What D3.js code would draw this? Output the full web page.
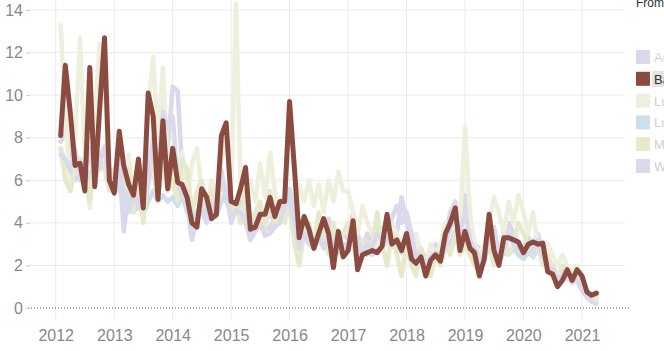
<!DOCTYPE html>
<html>
<head>
<meta charset="utf-8">
<script src="https://cdn.jsdelivr.net/npm/d3@7"></script>
<style>
  body { margin: 0; background: #fff; }
  svg { display: block; font-family: "Liberation Sans", Arial, sans-serif; }
</style>
</head>
<body>
<div id="chart"></div>
<script>
// monthly values, Feb 2012 .. Apr 2021
const firstMonth = new Date(2012, 1, 1)
const years = [2012, 2013, 2014, 2015, 2016, 2017, 2018, 2019, 2020, 2021]
const yTicks = [0, 2, 4, 6, 8, 10, 12, 14]
const names = ["Austria", "Bavaria", "Luxembourg", "Lucerne", "Milan", "Wales"]
const highlighted = "Bavaria"

const au = [7.8, 8.3, 7.5, 6.5, 7.0, 6.8, 7.2, 5.8, 7.0, 7.6, 6.5,
  6.2, 6.8, 3.6, 5.5, 4.8, 5.5, 4.5, 5.8, 7.3, 6.0, 9.8, 7.5,
  10.4, 10.2, 6.5, 5.5, 3.8, 4.5, 5.0, 4.2, 4.8, 5.5, 6.5, 5.0,
  4.5, 5.0, 4.0, 4.8, 3.5, 4.0, 4.5, 3.6, 3.8, 4.2, 4.5, 5.0,
  5.6, 4.5, 3.0, 4.0, 3.5, 3.2, 3.8, 3.0, 4.2, 3.2, 3.0, 3.5,
  3.2, 4.5, 3.5, 2.8, 3.5, 3.0, 4.0, 3.5, 4.2, 3.5, 3.5, 5.2,
  4.0, 3.0, 2.5, 2.8, 2.2, 2.5, 3.0, 2.6, 3.5, 4.5, 5.0, 4.0,
  5.3, 4.0, 3.0, 2.8, 2.5, 3.5, 3.8, 2.5, 3.0, 4.0, 3.5, 3.0,
  2.8, 3.3, 3.0, 3.5, 2.5, 2.2, 2.0, 1.5, 1.8, 1.6, 1.3, 1.5,
  1.0, 0.6, 0.4, 0.3]

const ba = [8.1, 11.4, 9.2, 6.7, 6.8, 5.5, 11.3, 5.7, 9.3, 12.7, 6.0,
  5.4, 8.3, 6.7, 5.8, 5.3, 7.0, 4.7, 10.1, 9.0, 5.1, 8.8, 5.6,
  7.5, 5.9, 5.8, 5.2, 4.0, 3.8, 5.6, 5.2, 4.2, 4.4, 8.1, 8.7,
  5.0, 4.9, 5.6, 6.6, 3.7, 3.8, 4.4, 4.4, 5.2, 4.3, 5.0, 5.0,
  9.7, 6.5, 3.3, 4.3, 3.7, 2.8, 3.5, 4.2, 3.5, 1.9, 3.6, 2.4,
  2.7, 4.1, 1.8, 2.5, 2.6, 2.7, 2.6, 2.9, 4.4, 3.0, 3.2, 2.7,
  3.5, 2.3, 2.1, 2.4, 1.5, 2.25, 2.5, 2.2, 3.5, 4.0, 4.7, 2.7,
  3.6, 2.8, 2.6, 1.5, 2.3, 4.4, 2.7, 2.0, 3.3, 3.3, 3.2, 3.1,
  2.6, 3.0, 3.1, 3.0, 3.05, 1.7, 1.6, 1.0, 1.3, 1.8, 1.3, 1.8,
  1.5, 0.75, 0.6, 0.7]

const lux = [13.3, 9.0, 5.5, 8.0, 12.7, 7.0, 4.7, 8.5, 12.4, 10.8, 6.0,
  5.5, 7.5, 6.0, 7.2, 5.0, 6.5, 4.0, 9.5, 11.8, 8.0, 11.3, 6.5,
  7.6, 6.5, 7.3, 5.0, 6.8, 7.5, 5.5, 4.5, 6.0, 5.2, 7.0, 8.0,
  5.5, 14.3, 5.5, 4.5, 6.0, 5.0, 6.8, 5.2, 7.3, 5.5, 4.0, 4.5,
  4.5, 3.5, 5.8, 5.0, 6.0, 4.8, 5.8, 4.5, 6.0, 5.0, 6.4, 5.5,
  5.5, 4.5, 3.5, 4.8, 4.0, 3.5, 2.8, 3.5, 3.0, 4.0, 3.5, 3.0,
  2.5, 3.0, 3.5, 2.5, 2.0, 3.0, 2.5, 3.0, 4.0, 3.5, 4.5, 4.0,
  8.5, 4.5, 3.0, 2.5, 3.0, 4.0, 5.2, 4.5, 3.5, 5.0, 4.0, 5.3,
  4.5, 3.5, 4.5, 3.0, 2.5, 3.0, 2.5, 2.0, 2.5, 2.0, 1.8, 2.0,
  1.0, 0.8, 0.5, 0.4]

const luc = [7.5, 6.8, 6.5, 6.0, 6.3, 6.8, 6.0, 7.0, 6.5, 6.8, 6.0,
  6.5, 5.5, 5.8, 5.0, 4.5, 4.8, 4.4, 5.0, 5.5, 5.0, 5.3, 5.0,
  5.2, 4.8, 5.3, 4.5, 4.2, 4.5, 5.0, 4.4, 4.8, 4.3, 5.0, 5.5,
  4.8, 4.5, 5.0, 4.8, 4.0, 3.8, 4.2, 4.0, 4.5, 4.0, 4.3, 4.5,
  5.5, 4.5, 3.2, 3.5, 3.4, 3.0, 3.2, 3.5, 3.0, 2.6, 3.2, 2.8,
  2.8, 3.2, 2.5, 2.6, 2.8, 2.5, 2.7, 2.8, 3.3, 2.9, 2.8, 2.6,
  3.0, 2.5, 2.4, 2.2, 2.0, 2.4, 2.3, 2.2, 2.8, 3.0, 3.6, 3.0,
  3.0, 2.8, 2.5, 2.0, 2.4, 3.0, 2.6, 2.2, 2.6, 2.5, 2.8, 2.5,
  2.3, 2.6, 2.4, 2.8, 2.5, 2.0, 1.8, 1.4, 1.5, 1.7, 1.2, 1.4,
  1.2, 0.8, 0.6, 0.5]

const mil = [7.5, 6.0, 5.5, 6.5, 7.0, 6.0, 5.0, 7.5, 7.0, 6.5, 5.5,
  6.5, 7.0, 5.5, 6.5, 4.5, 6.0, 4.0, 7.0, 6.5, 5.0, 7.0, 5.5,
  6.0, 5.0, 7.0, 6.5, 4.5, 5.5, 6.0, 4.8, 5.5, 4.5, 6.0, 5.5,
  4.5, 5.0, 4.0, 5.5, 4.0, 4.5, 5.0, 3.5, 5.5, 4.0, 4.5, 4.0,
  5.0, 3.0, 2.0, 3.5, 4.0, 3.0, 4.5, 3.5, 2.5, 4.0, 3.0, 3.5,
  4.0, 3.0, 2.0, 3.2, 2.5, 3.0, 4.5, 3.0, 2.0, 3.5, 2.5, 1.5,
  3.0, 2.0, 1.5, 2.8, 2.0, 1.5, 2.5, 2.0, 3.0, 2.5, 3.5, 2.5,
  3.0, 2.5, 2.0, 1.8, 2.5, 3.0, 2.0, 2.5, 3.5, 2.5, 3.0, 4.0,
  3.5, 3.0, 2.5, 3.0, 2.0, 2.5, 1.8, 1.5, 2.0, 1.8, 1.5, 1.3,
  1.0, 0.8, 0.5, 0.5]

const wal = [7.2, 7.0, 6.5, 7.5, 6.0, 6.5, 7.5, 6.2, 6.8, 7.5, 6.0,
  6.0, 7.5, 5.0, 4.5, 5.5, 4.8, 5.2, 6.5, 8.0, 6.5, 9.2, 8.5,
  9.0, 6.0, 5.2, 4.8, 3.2, 4.2, 4.6, 4.0, 4.5, 5.0, 6.2, 5.5,
  4.0, 4.6, 4.5, 4.0, 3.2, 3.6, 4.0, 3.4, 3.5, 3.8, 4.0, 4.8,
  5.0, 4.0, 2.8, 3.5, 3.0, 2.8, 3.3, 2.8, 3.5, 2.8, 2.6, 3.0,
  3.0, 3.5, 3.2, 2.5, 3.0, 2.8, 3.5, 3.2, 3.8, 4.2, 4.8, 4.0,
  4.5, 3.5, 2.5, 2.5, 2.0, 2.3, 2.6, 2.4, 3.0, 3.8, 4.2, 3.5,
  4.5, 3.2, 2.8, 2.4, 2.2, 3.0, 3.3, 2.4, 2.8, 3.5, 3.0, 2.8,
  2.5, 3.0, 2.6, 3.2, 2.4, 2.0, 1.8, 1.2, 1.6, 1.4, 1.2, 1.3,
  0.8, 0.5, 0.3, 0.2]

const seriesValues = [au, ba, lux, luc, mil, wal]
const colors = ["#dcd7ea", "#8c4b40", "#eef0dd", "#cddfea", "#e6e9cb", "#dbd9ec"]

drawChart("#chart")

function drawChart(id){
  const canvas = {width: 664, height: 351}
  const svg = d3.select(id).append("svg").attr("width", canvas.width).attr("height", canvas.height)

  const months = seriesValues[0].map((v, i) => d3.timeMonth.offset(firstMonth, i))
  const x = d3.scaleTime().domain([new Date(2012, 0, 1), new Date(2021, 0, 1)]).range([55.7, 582])
  const y = d3.scaleLinear().domain([0, 14]).range([308, 10])

  addGrid(svg, x, y)
  addLines(svg, x, y, months)
  addAxes(svg, x, y)
  addLegend(svg)
}

function addGrid(svg, x, y){
  svg.append("g").selectAll("line").data(yTicks.filter(d => d > 0)).enter().append("line")
    .attr("x1", 28).attr("x2", 625).attr("y1", d => y(d)).attr("y2", d => y(d))
    .attr("stroke", "#ebebeb").attr("stroke-width", 1)

  svg.append("g").selectAll("line").data(years).enter().append("line")
    .attr("x1", d => x(new Date(d, 0, 1))).attr("x2", d => x(new Date(d, 0, 1)))
    .attr("y1", 0).attr("y2", 320)
    .attr("stroke", "#ebebeb").attr("stroke-width", 1)
}

function addLines(svg, x, y, months){
  const line = d3.line().x((d, i) => x(months[i])).y(d => y(d))
  const order = [0, 2, 3, 4, 5, 1]
  order.forEach(k => {
    svg.append("path").datum(seriesValues[k])
      .attr("fill", "none").attr("stroke", colors[k])
      .attr("stroke-width", k === 1 ? 5 : 4.5)
      .attr("stroke-linejoin", "round").attr("stroke-linecap", "round")
      .attr("d", line)
  })
}

function addAxes(svg, x, y){
  // dotted zero line
  svg.append("line").attr("x1", 28).attr("x2", 630).attr("y1", y(0)).attr("y2", y(0))
    .attr("stroke", "#555").attr("stroke-dasharray", "1 2").attr("stroke-width", 1)

  const yAxis = svg.append("g").attr("transform", "translate(30,0)")
    .call(d3.axisLeft(y).tickValues(yTicks).tickSize(4).tickPadding(3))
  yAxis.select(".domain").remove()
  yAxis.selectAll("line").attr("stroke", "#ccc")
  yAxis.selectAll("text").attr("fill", "#888").attr("font-size", "16px")
    .attr("font-family", "Liberation Sans, Arial, sans-serif")

  const xAxis = svg.append("g").attr("transform", "translate(0,322)")
    .call(d3.axisBottom(x).tickValues(years.map(d => new Date(d, 0, 1)))
      .tickFormat(d3.timeFormat("%Y")).tickSize(0).tickPadding(8))
  xAxis.select(".domain").remove()
  xAxis.selectAll("text").attr("fill", "#888").attr("font-size", "16px")
    .attr("font-family", "Liberation Sans, Arial, sans-serif")
}

function addLegend(svg){
  svg.append("text").attr("x", 636).attr("y", 7)
    .attr("font-size", "12px").attr("fill", "#333").text("From")

  const item = svg.append("g").selectAll("g").data(names).enter().append("g")
    .attr("transform", (d, i) => `translate(636, ${50 + i * 21.8})`)

  item.filter(d => d === highlighted).append("rect")
    .attr("x", 16).attr("y", -1).attr("width", 20).attr("height", 16).attr("fill", "#e3e3e3")

  item.append("rect").attr("width", 14).attr("height", 14)
    .attr("fill", (d, i) => colors[i])

  item.append("text").attr("x", 18).attr("y", 12)
    .attr("font-size", "13px")
    .attr("fill", d => d === highlighted ? "#333" : "#d0d0d0")
    .text(d => d)
}
</script>
</body>
</html>
